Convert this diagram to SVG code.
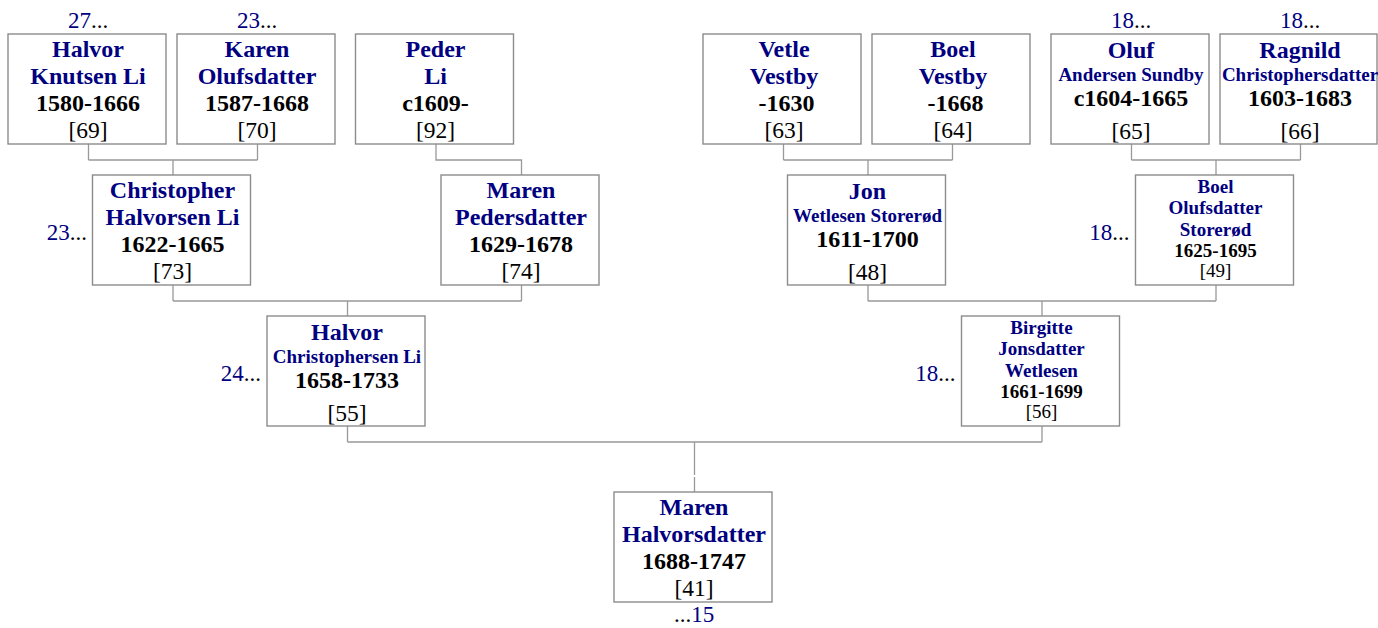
<svg xmlns="http://www.w3.org/2000/svg" width="1378" height="628" viewBox="0 0 1378 628">
<style>
text{font-family:"Liberation Serif","Times New Roman",serif;text-anchor:middle}
.box{fill:#fff;stroke:#8c8c8c;stroke-width:1.4}
.n{font-weight:bold;font-size:24px;fill:#000080}
.ns{font-weight:bold;font-size:19px;fill:#000080}
.d{font-weight:bold;font-size:24px;fill:#000}
.ds{font-weight:bold;font-size:19px;fill:#000}
.r{font-size:23.5px;fill:#000}
.rs{font-size:19px;fill:#000}
.lab{font-size:23px;fill:#000}
.end{text-anchor:end}
.nv{fill:#000080}
.conn{fill:none;stroke:#999;stroke-width:1.3}
</style>
<rect width="1378" height="628" fill="#fff"/>
<g id="connectors" class="conn">
<path d="M88.5 144V160M257.5 144V160M88.5 160H257.5M173 160V175"/>
<path d="M436 144V160H521.5V175"/>
<path d="M783.5 144V160M952.5 144V160M783.5 160H952.5M868 160V175"/>
<path d="M1131.5 144V160M1300.5 144V160M1131.5 160H1300.5M1216 160V175"/>
<path d="M173 285V301M521.5 285V301M173 301H521.5M347.5 301V316"/>
<path d="M868 285V301M1216 285V301M868 301H1216M1042 301V316"/>
<path d="M347.5 426V442M1042 426V442M347.5 442H1042M694.5 442V475M694.5 477V492"/>
</g>
<g id="p69">
<rect class="box" x="8" y="34" width="158" height="110"/>
<text class="lab" x="88" y="28"><tspan class="nv">27</tspan>...</text>
<text class="n" x="88" y="57">Halvor</text>
<text class="n" x="88" y="84">Knutsen Li</text>
<text class="d" x="88" y="111">1580-1666</text>
<text class="r" x="88" y="138">[69]</text>
</g>
<g id="p70">
<rect class="box" x="177" y="34" width="158" height="110"/>
<text class="lab" x="257" y="28"><tspan class="nv">23</tspan>...</text>
<text class="n" x="257" y="57">Karen</text>
<text class="n" x="257" y="84">Olufsdatter</text>
<text class="d" x="257" y="111">1587-1668</text>
<text class="r" x="257" y="138">[70]</text>
</g>
<g id="p92">
<rect class="box" x="355.5" y="34" width="158" height="110"/>
<text class="n" x="435.5" y="57">Peder</text>
<text class="n" x="435.5" y="84">Li</text>
<text class="d" x="435.5" y="111">c1609-</text>
<text class="r" x="435.5" y="138">[92]</text>
</g>
<g id="p63">
<rect class="box" x="703" y="34" width="158" height="110"/>
<text class="n" x="784" y="57">Vetle</text>
<text class="n" x="784" y="84">Vestby</text>
<text class="d" x="786.5" y="111">-1630</text>
<text class="r" x="784" y="138">[63]</text>
</g>
<g id="p64">
<rect class="box" x="872" y="34" width="158" height="110"/>
<text class="n" x="953" y="57">Boel</text>
<text class="n" x="953" y="84">Vestby</text>
<text class="d" x="955.5" y="111">-1668</text>
<text class="r" x="953" y="138">[64]</text>
</g>
<g id="p65">
<rect class="box" x="1051" y="34" width="158" height="110"/>
<text class="lab" x="1131" y="28"><tspan class="nv">18</tspan>...</text>
<text class="n" x="1131" y="57.5">Oluf</text>
<text class="ns" x="1131" y="81">Andersen Sundby</text>
<text class="d" x="1131" y="106">c1604-1665</text>
<text class="r" x="1131" y="138.5">[65]</text>
</g>
<g id="p66">
<rect class="box" x="1220" y="34" width="157" height="110"/>
<text class="lab" x="1300" y="28"><tspan class="nv">18</tspan>...</text>
<text class="n" x="1300" y="57.5">Ragnild</text>
<text class="ns" x="1300" y="81">Christophersdatter</text>
<text class="d" x="1300" y="106">1603-1683</text>
<text class="r" x="1300" y="138.5">[66]</text>
</g>
<g id="p73">
<rect class="box" x="92.5" y="175" width="158" height="110"/>
<text class="lab end" x="87" y="240"><tspan class="nv">23</tspan>...</text>
<text class="n" x="172.5" y="198">Christopher</text>
<text class="n" x="172.5" y="225">Halvorsen Li</text>
<text class="d" x="172.5" y="252">1622-1665</text>
<text class="r" x="172.5" y="279">[73]</text>
</g>
<g id="p74">
<rect class="box" x="441" y="175" width="158" height="110"/>
<text class="n" x="521" y="198">Maren</text>
<text class="n" x="521" y="225">Pedersdatter</text>
<text class="d" x="521" y="252">1629-1678</text>
<text class="r" x="521" y="279">[74]</text>
</g>
<g id="p48">
<rect class="box" x="787.5" y="175" width="158" height="110"/>
<text class="n" x="867.5" y="198.5">Jon</text>
<text class="ns" x="867.5" y="222">Wetlesen Storerød</text>
<text class="d" x="867.5" y="247">1611-1700</text>
<text class="r" x="867.5" y="279.5">[48]</text>
</g>
<g id="p49">
<rect class="box" x="1135.5" y="175" width="158" height="110"/>
<text class="lab end" x="1129.5" y="240"><tspan class="nv">18</tspan>...</text>
<text class="ns" x="1215.5" y="193">Boel</text>
<text class="ns" x="1215.5" y="214">Olufsdatter</text>
<text class="ns" x="1215.5" y="235.5">Storerød</text>
<text class="ds" x="1215.5" y="257">1625-1695</text>
<text class="rs" x="1215.5" y="277">[49]</text>
</g>
<g id="p55">
<rect class="box" x="267" y="316" width="158" height="110"/>
<text class="lab end" x="261" y="381"><tspan class="nv">24</tspan>...</text>
<text class="n" x="347" y="339.5">Halvor</text>
<text class="ns" x="347" y="363">Christophersen Li</text>
<text class="d" x="347" y="388">1658-1733</text>
<text class="r" x="347" y="420.5">[55]</text>
</g>
<g id="p56">
<rect class="box" x="961.5" y="316" width="158" height="110"/>
<text class="lab end" x="955.5" y="381"><tspan class="nv">18</tspan>...</text>
<text class="ns" x="1041.5" y="334">Birgitte</text>
<text class="ns" x="1041.5" y="355">Jonsdatter</text>
<text class="ns" x="1041.5" y="376.5">Wetlesen</text>
<text class="ds" x="1041.5" y="398">1661-1699</text>
<text class="rs" x="1041.5" y="418">[56]</text>
</g>
<g id="p41">
<rect class="box" x="614" y="492" width="158" height="110"/>
<text class="n" x="694" y="515">Maren</text>
<text class="n" x="694" y="542">Halvorsdatter</text>
<text class="d" x="694" y="569">1688-1747</text>
<text class="r" x="694" y="596">[41]</text>
<text class="lab" x="694" y="622">...<tspan class="nv">15</tspan></text>
</g>
</svg>
